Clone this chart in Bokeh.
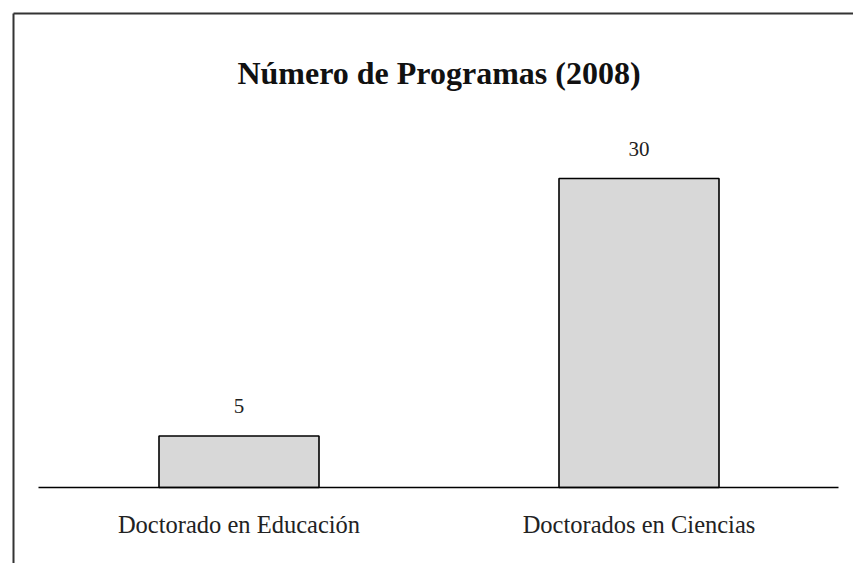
from bokeh.plotting import figure
from bokeh.models import Range1d, ColumnDataSource
from bokeh.core.properties import value
from bokeh.embed import file_html
from bokeh.resources import INLINE

categories = ["Doctorado en Educación", "Doctorados en Ciencias"]
counts = [5, 30]
title_text = "Número de Programas (2008)"

W, H = 853, 563
px_x = 400.0          # pixels per category step
px_y = 10.3           # pixels per unit of value
cx0 = 238.5           # pixel position of first category center
base = 76             # baseline pixel offset from bottom
x0 = cx0 / px_x
y0 = base / px_y
xmax = (W - cx0) / px_x
ymax = (H - base) / px_y

p = figure(width=W, height=H, output_backend="svg", toolbar_location=None,
           x_range=Range1d(-x0, xmax), y_range=Range1d(-y0, ymax),
           min_border=0, outline_line_color=None)
p.axis.visible = False
p.grid.visible = False
p.background_fill_color = "white"

xs = list(range(len(categories)))
src = ColumnDataSource(dict(x=xs, top=counts, cat=categories,
                            lbl=[str(c) for c in counts]))

serif = value("Liberation Serif")

# frame lines (left and top)
xl = -x0 + 13 / px_x
yt = ymax - 13 / px_y
p.line([xl, xl], [-y0 - 1, yt], line_color="#333333", line_width=2)
p.line([xl, xmax + 1], [yt, yt], line_color="#333333", line_width=2)

# bars
p.vbar(x="x", top="top", bottom=0, width=0.40, source=src,
       fill_color="#d8d8d8", line_color="black", line_width=1.6)

# baseline
p.line([-x0 + 38 / px_x, -x0 + 838 / px_x], [0, 0], line_color="black", line_width=1.5)

# value labels
p.text(x="x", y="top", text="lbl", source=src, text_align="center",
       text_baseline="bottom", y_offset=-23, text_font=serif,
       text_font_size="21px", text_color="#222222")

# category labels
p.text(x="x", y=0, text="cat", source=src, text_align="center",
       text_baseline="alphabetic", y_offset=37, text_font=serif,
       text_font_size="24.5px", text_color="#222222")

# title
p.text(x=[0.5], y=[ymax], text=[title_text], text_align="center",
       text_baseline="alphabetic", y_offset=72, text_font=serif,
       text_font_size="32px", text_font_style="bold", text_color="#111111")

open("out.html", "w").write(file_html(p, INLINE))
